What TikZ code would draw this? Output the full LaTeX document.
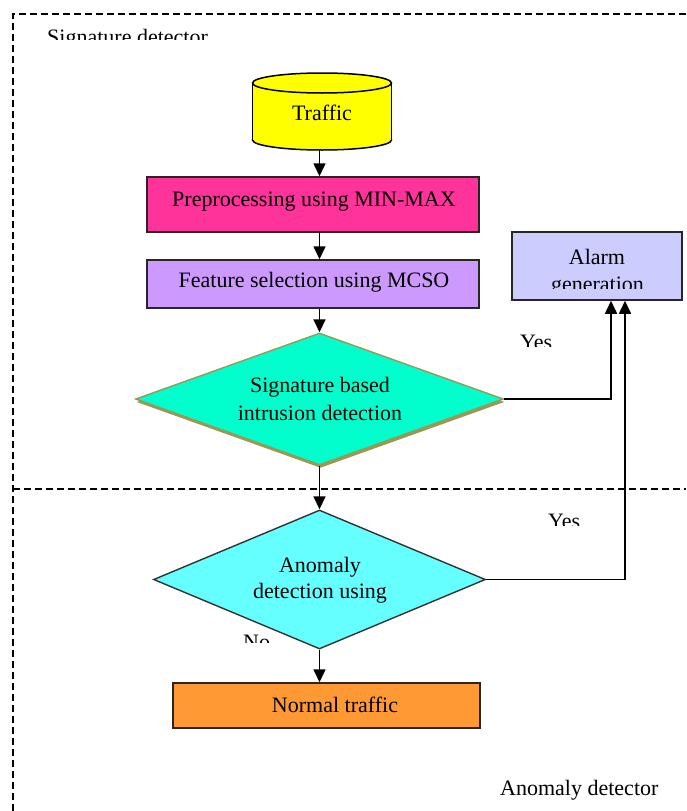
\documentclass[tikz,border=0pt]{standalone}
\usepackage{fontspec}
\setmainfont{Liberation Serif}
\usetikzlibrary{arrows.meta,shapes.geometric}
\definecolor{cyly}{HTML}{FFFF00}
\definecolor{pinkb}{HTML}{FF3399}
\definecolor{purpb}{HTML}{CC99FF}
\definecolor{tealD}{HTML}{00FFCC}
\definecolor{olv}{HTML}{999955}
\definecolor{alarmb}{HTML}{CCCCFF}
\definecolor{cyanD}{HTML}{66FFFF}
\definecolor{orangeb}{HTML}{FF9933}
\begin{document}
\begin{tikzpicture}[x=1pt,y=-1pt,
  font=\fontsize{22}{27}\selectfont,
  arr/.style={line width=1.6pt,-{Triangle[width=12pt,length=13pt]}},
  box/.style={draw=black!85,line width=1.5pt,inner sep=0,rectangle},
  dia/.style={diamond,inner sep=0,line width=1.4pt},
  lbl/.style={inner sep=0,anchor=base},
  border/.style={line width=1.4pt,dash pattern=on 7pt off 4pt}]
\useasboundingbox (0,0) rectangle (686,811);

% detector borders
\draw[border] (13,811) -- (13,14) -- (686,14);
\draw[border] (13,489) -- (686,489);

% cylinder
\fill[cyly] (322,140) ellipse[x radius=69.5pt,y radius=10pt];
\draw[line width=1.5pt] (322,140) ellipse[x radius=69.5pt,y radius=10pt];
\fill[cyly] (252.5,83) rectangle (391.5,140);
\draw[line width=1.5pt] (252.5,83) -- (252.5,140) (391.5,83) -- (391.5,140);
\filldraw[fill=cyly,line width=1.5pt] (322,83) ellipse[x radius=69.5pt,y radius=10pt];
\node[inner sep=0,minimum width=139pt,minimum height=77pt] (cyl) at (322,111.5) {};
\node[lbl] (cylT) at (322,120) {Traffic};

% boxes
\node[box,fill=pinkb,minimum width=332pt,minimum height=55pt] (pre) at (313,204.5) {};
\node[lbl] (preT) at (314,206) {Preprocessing using MIN-MAX};
\node[box,fill=purpb,minimum width=332pt,minimum height=48pt] (feat) at (313,284) {};
\node[lbl] (featT) at (314,287) {Feature selection using MCSO};
\node[box,fill=alarmb,minimum width=170pt,minimum height=68pt] (alarm) at (597,266) {};
\node[lbl] (alarmT) at (597,264) {Alarm};
\begin{scope}
  \clip (520,270) rectangle (680,288);
  \node[lbl] (alarmT2) at (597.5,291.5) {generation};
\end{scope}
\node[box,fill=orangeb,minimum width=307pt,minimum height=45pt] (normal) at (326.5,705.5) {};
\node[lbl] (normalT) at (335,712) {Normal traffic};

% diamonds
\node[dia,fill=olv,minimum width=368pt,minimum height=132pt] (d1s) at (320.5,402) {};
\node[dia,fill=tealD,draw=olv,minimum width=368pt,minimum height=132pt] (d1) at (319.5,399) {};
\node[lbl] (d1T1) at (320,392) {Signature based};
\node[lbl] (d1T2) at (320,420) {intrusion detection};
\node[dia,fill=cyanD,draw=black!80,minimum width=332pt,minimum height=139pt] (d2) at (319.5,579.5) {};
\node[lbl] (d2T1) at (320,572) {Anomaly};
\node[lbl] (d2T2) at (320,598) {detection using};

% connectors
\coordinate (k1) at (611,399);
\coordinate (k2) at (625,579.5);
\draw[arr] (cyl.south -| d1.north) -- (pre.north -| d1.north);
\draw[arr] (pre.south -| d1.north) -- (feat.north -| d1.north);
\draw[arr] (feat.south -| d1.north) -- (d1.north);
\draw[arr] (d1.south) -- (d2.north);
\draw[arr] (d2.south) -- (normal.north -| d2.south);
\draw[arr] (d1.east) -- (k1) -- (alarm.south -| k1);
\draw[arr] (d2.east) -- (k2) -- (alarm.south -| k2);

% labels
\begin{scope}
  \clip (30,18) rectangle (240,39.5);
  \node[lbl,anchor=base west] (sigT) at (47,44) {Signature detector};
\end{scope}
\begin{scope}
  \clip (510,325) rectangle (570,346);
  \node[lbl,anchor=base west] (yes1) at (520,349) {Yes};
\end{scope}
\begin{scope}
  \clip (538,505) rectangle (600,525);
  \node[lbl,anchor=base west] (yes2) at (548,528) {Yes};
\end{scope}
\begin{scope}
  \clip (235,628) rectangle (290,642);
  \node[lbl,anchor=base west] (noT) at (243,649) {No};
\end{scope}
\node[lbl,anchor=base west] (anoT) at (500,795) {Anomaly detector};
\end{tikzpicture}
\end{document}
